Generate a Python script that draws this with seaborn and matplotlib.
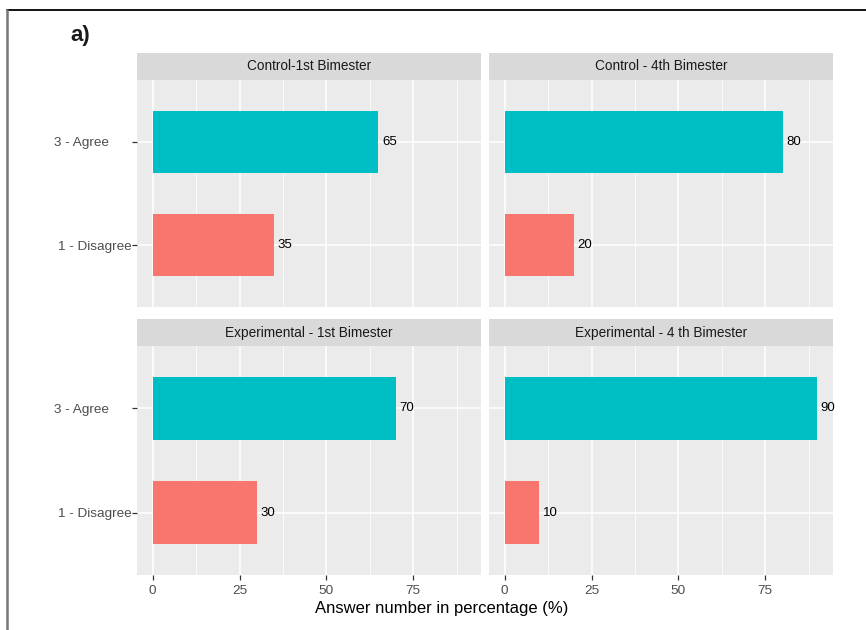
import numpy as np
import pandas as pd
import matplotlib
matplotlib.use("Agg")
import matplotlib.pyplot as plt
import seaborn as sns
from matplotlib.lines import Line2D
from matplotlib.ticker import MultipleLocator

# dados
panels = ["Control-1st Bimester", "Control - 4th Bimester",
          "Experimental - 1st Bimester", "Experimental - 4 th Bimester"]
responses = ["3 - Agree", "1 - Disagree"]
agree = [65, 80, 70, 90]
disagree = [35, 20, 30, 10]
xticks = [0, 25, 50, 75]

rows = []
for p, a, d in zip(panels, agree, disagree):
    rows.append({"panel": p, "resp": responses[0], "pct": a})
    rows.append({"panel": p, "resp": responses[1], "pct": d})
df = pd.DataFrame(rows)

cores = {"3 - Agree": "#00BFC4", "1 - Disagree": "#F8766D"}

sns.set_style("white")
plt.rcParams["font.family"] = ["Liberation Sans", "DejaVu Sans"]

W, H = 866, 630
fig = plt.figure(figsize=(W / 100, H / 100), dpi=100)

def fx(px):
    return px / W

def fy(px):
    return 1 - px / H

# posicoes em pixels: (x0, x1) e (strip_top, panel_top, panel_bottom)
cols = [(137, 481), (489, 833)]
linhas = [(53, 80, 307), (319, 346, 575)]

for i, p in enumerate(panels):
    r, c = divmod(i, 2)
    x0, x1 = cols[c]
    st, pt, pb = linhas[r]
    ax = fig.add_axes([fx(x0), fy(pb), fx(x1 - x0), (pb - pt) / H])
    ax.set_facecolor("#EBEBEB")
    ax.set_axisbelow(True)
    sub = df[df["panel"] == p]
    sns.barplot(data=sub, x="pct", y="resp", hue="resp", order=responses,
                hue_order=responses, palette=cores, width=0.6,
                legend=False, ax=ax, saturation=1, linewidth=0)
    for cont in ax.containers:
        ax.bar_label(cont, padding=2.5, fontsize=9.5, color="black")
    ax.set_xlim(-4.5, 94.5)
    ax.set_ylim(1.6, -0.6)
    ax.xaxis.set_major_locator(MultipleLocator(25))
    ax.xaxis.set_minor_locator(MultipleLocator(12.5))
    ax.grid(which="major", color="white", linewidth=1.1)
    ax.grid(which="minor", axis="x", color="white", linewidth=0.55)
    for s in ax.spines.values():
        s.set_visible(False)
    ax.set_xlabel("")
    ax.set_ylabel("")
    ax.tick_params(which="minor", length=0)
    ax.tick_params(which="major", left=True, bottom=True, length=3.5,
                   width=0.9, color="#333333", labelcolor="#4D4D4D",
                   labelsize=9.7)
    ax.tick_params(axis="x", pad=4)
    ax.tick_params(axis="y", pad=0.5)
    if r == 0:
        ax.tick_params(axis="x", length=0, labelbottom=False)
    else:
        ax.set_xticks(xticks)
        ax.set_xticklabels([str(t) for t in xticks])
    if c == 1:
        ax.tick_params(axis="y", length=0, labelleft=False)
    else:
        ax.set_yticks([0, 1])
        ax.set_yticklabels(["3 - Agree      ", "1 - Disagree"])

    # faixa do titulo
    sax = fig.add_axes([fx(x0), fy(pt), fx(x1 - x0), (pt - st) / H])
    sax.set_facecolor("#D9D9D9")
    sax.set_xticks([])
    sax.set_yticks([])
    for s in sax.spines.values():
        s.set_visible(False)
    sax.text(0.5, 0.5, p, ha="center", va="center", fontsize=9.8,
             color="#1A1A1A", transform=sax.transAxes)

fig.text(fx(442), fy(608), "Answer number in percentage (%)",
         ha="center", va="center", fontsize=12, color="black")
fig.text(fx(70), fy(35), "a)", ha="left", va="center", fontsize=16,
         fontweight="bold", color="#1A1A1A")

# moldura
fig.add_artist(Line2D([fx(7), 1], [fy(10), fy(10)], color="black", linewidth=1.3))
fig.add_artist(Line2D([fx(7), fx(7)], [fy(10), 0], color="#777777", linewidth=1.8))

fig.savefig("out.png", dpi=100)
